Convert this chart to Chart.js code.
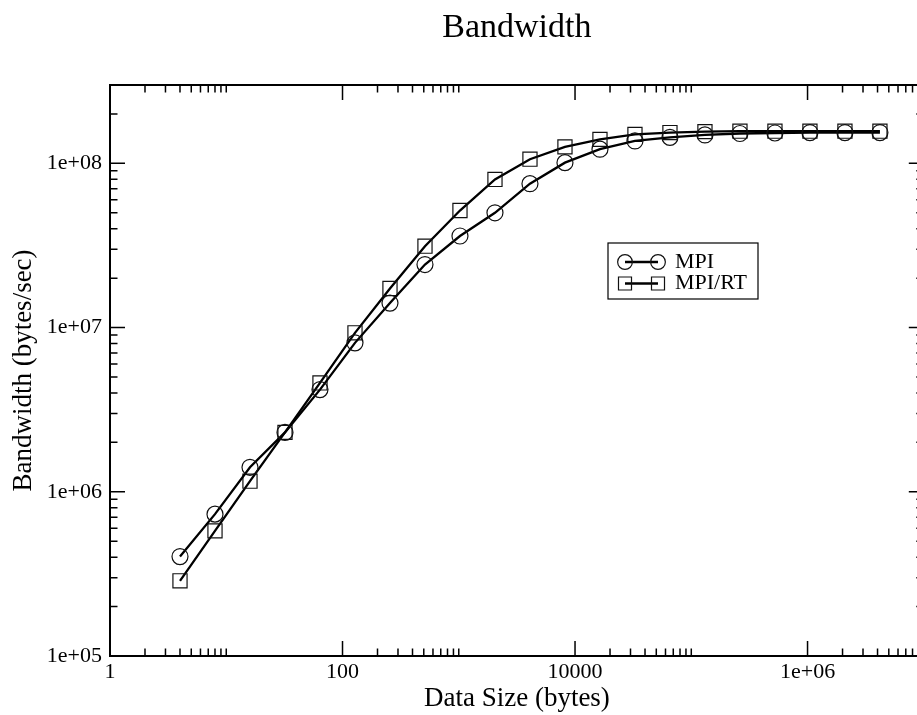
<!DOCTYPE html>
<html>
<head>
<meta charset="utf-8">
<title>Bandwidth</title>
<script src="https://cdn.jsdelivr.net/npm/chart.js@4.4.1/dist/chart.umd.min.js"></script>
<style>
  html, body { margin: 0; padding: 0; background: #fff; overflow: hidden; }
  canvas { display: block; }
</style>
</head>
<body>
<canvas id="chart" width="935" height="715" style="width:935px;height:715px"></canvas>
<script>
// message sizes in bytes
const sizes = [4, 8, 16, 32, 64, 128, 256, 512, 1024, 2048, 4096, 8192, 16384,
  32768, 65536, 131072, 262144, 524288, 1048576, 2097152, 4194304];

// bandwidth in bytes/sec
const mpi = [4.03e5, 7.31e5, 1.41e6, 2.30e6, 4.19e6, 8.07e6, 1.41e7, 2.42e7, 3.61e7,
  5.00e7, 7.52e7, 1.01e8, 1.22e8, 1.37e8, 1.44e8, 1.49e8, 1.52e8, 1.53e8, 1.54e8, 1.54e8, 1.54e8];
const mpiRT = [2.87e5, 5.78e5, 1.16e6, 2.30e6, 4.60e6, 9.29e6, 1.73e7, 3.13e7, 5.16e7,
  7.98e7, 1.06e8, 1.26e8, 1.40e8, 1.50e8, 1.54e8, 1.56e8, 1.57e8, 1.57e8, 1.57e8, 1.57e8, 1.57e8];

const xTickLabels = ["1", "100", "10000", "1e+06"];
const yTickLabels = ["1e+05", "1e+06", "1e+07", "1e+08"];

const FONT = "'Liberation Serif', 'Times New Roman', serif";
Chart.defaults.font.family = FONT;
Chart.defaults.color = "#000";

const toPoints = (ys) => sizes.map((x, i) => ({ x: x, y: ys[i] }));

// decade ticks: 1..9 x 10^e (plus 10 x 10^e where asked)
function decadeTicks(fromExp, toExp, step, withTen, max) {
  const ticks = [];
  for (let e = fromExp; e <= toExp; e += step) {
    const last = withTen ? 10 : 9;
    for (let s = 1; s <= last; s++) {
      const v = s * Math.pow(10, e);
      if (v <= max) ticks.push({ value: v, major: s === 1 });
    }
  }
  return ticks;
}

// inward ticks on all four sides + frame
const frameTicks = {
  id: "frameTicks",
  afterDatasetsDraw(chart) {
    const { ctx, chartArea: a, scales: { x, y } } = chart;
    ctx.save();
    ctx.strokeStyle = "#000";
    ctx.lineWidth = 1.5;
    ctx.beginPath();
    x.ticks.forEach((t) => {
      const px = x.getPixelForValue(t.value);
      const len = t.major ? 15 : 7.5;
      ctx.moveTo(px, a.bottom); ctx.lineTo(px, a.bottom - len);
      ctx.moveTo(px, a.top); ctx.lineTo(px, a.top + len);
    });
    y.ticks.forEach((t) => {
      const py = y.getPixelForValue(t.value);
      const len = t.major ? 15 : 7.5;
      ctx.moveTo(a.left, py); ctx.lineTo(a.left + len, py);
      ctx.moveTo(a.right, py); ctx.lineTo(a.right - len, py);
    });
    ctx.stroke();
    ctx.lineWidth = 2;
    ctx.strokeRect(a.left, a.top, a.right - a.left, a.bottom - a.top);
    ctx.restore();
  }
};

// boxed legend inside the plot
const boxLegend = {
  id: "boxLegend",
  afterDraw(chart) {
    const { ctx, chartArea: a } = chart;
    const left = a.left + 498, top = a.top + 158, w = 150, h = 56;
    ctx.save();
    ctx.fillStyle = "#fff";
    ctx.fillRect(left, top, w, h);
    ctx.strokeStyle = "#000";
    ctx.lineWidth = 1.2;
    ctx.strokeRect(left, top, w, h);
    chart.data.datasets.forEach((ds, i) => {
      const cy = top + 19 + i * 21.5;
      ctx.strokeStyle = ds.borderColor;
      ctx.lineWidth = ds.borderWidth;
      ctx.beginPath();
      ctx.moveTo(left + 17, cy);
      ctx.lineTo(left + 50, cy);
      ctx.stroke();
      ctx.fillStyle = "rgba(0,0,0,0)";
      ctx.strokeStyle = ds.pointBorderColor;
      ctx.lineWidth = ds.pointBorderWidth;
      [left + 17, left + 50].forEach((cx) => {
        Chart.helpers.drawPoint(ctx, {
          pointStyle: ds.pointStyle,
          radius: ds.pointRadius * 0.92,
          borderWidth: ds.pointBorderWidth,
          rotation: 0
        }, cx, cy);
      });
      ctx.fillStyle = "#000";
      ctx.font = "22px " + FONT;
      ctx.textBaseline = "middle";
      ctx.textAlign = "left";
      ctx.fillText(ds.label, left + 67, cy);
    });
    ctx.restore();
  }
};

new Chart(document.getElementById("chart"), {
  type: "line",
  data: {
    datasets: [
      {
        label: "MPI",
        data: toPoints(mpi),
        borderColor: "#000",
        borderWidth: 2.3,
        tension: 0,
        pointStyle: "circle",
        pointRadius: 8,
        pointBorderWidth: 1.2,
        pointBorderColor: "#111",
        pointBackgroundColor: "rgba(0,0,0,0)"
      },
      {
        label: "MPI/RT",
        data: toPoints(mpiRT),
        borderColor: "#000",
        borderWidth: 2.3,
        tension: 0,
        pointStyle: "rect",
        pointRadius: 10,
        pointBorderWidth: 1.2,
        pointBorderColor: "#111",
        pointBackgroundColor: "rgba(0,0,0,0)"
      }
    ]
  },
  options: {
    responsive: false,
    animation: false,
    devicePixelRatio: 1,
    layout: { padding: { left: 0, right: 10, top: 0, bottom: 0 } },
    plugins: {
      legend: { display: false },
      tooltip: { enabled: false },
      title: {
        display: true,
        text: "Bandwidth",
        fullSize: false,
        font: { size: 34, weight: "normal" },
        color: "#000",
        padding: { top: 8, bottom: 36.2 }
      }
    },
    scales: {
      x: {
        type: "logarithmic",
        min: 1,
        max: 1e7,
        grid: { display: false, drawTicks: false },
        border: { display: false },
        afterBuildTicks: (scale) => { scale.ticks = decadeTicks(0, 6, 2, true, 1e7); },
        afterFit: (scale) => { scale.height = 59; },
        ticks: {
          autoSkip: false,
          maxRotation: 0,
          padding: 3.5,
          font: { size: 22 },
          callback: (v) => {
            const e = Math.round(Math.log10(v));
            return (Math.pow(10, e) === v && e % 2 === 0) ? xTickLabels[e / 2] : "";
          }
        },
        title: {
          display: true,
          text: "Data Size (bytes)",
          font: { size: 27 },
          padding: { top: 0, bottom: 0 }
        }
      },
      y: {
        type: "logarithmic",
        min: 1e5,
        max: 3e8,
        grid: { display: false, drawTicks: false },
        border: { display: false },
        afterBuildTicks: (scale) => { scale.ticks = decadeTicks(5, 8, 1, false, 3e8); },
        afterFit: (scale) => { scale.width = 110; },
        ticks: {
          autoSkip: false,
          padding: 8,
          font: { size: 22 },
          callback: (v) => {
            const e = Math.round(Math.log10(v));
            return Math.pow(10, e) === v ? yTickLabels[e - 5] : "";
          }
        },
        title: {
          display: true,
          text: "Bandwidth (bytes/sec)",
          font: { size: 27 },
          padding: { top: 8, bottom: 0 }
        }
      }
    }
  },
  plugins: [frameTicks, boxLegend]
});
</script>
</body>
</html>
